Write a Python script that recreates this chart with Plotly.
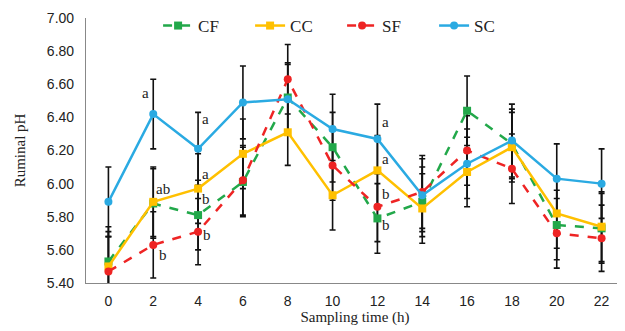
import plotly.graph_objects as go

hours = [0, 2, 4, 6, 8, 10, 12, 14, 16, 18, 20, 22]
tick_labels = ["0", "2", "4", "6", "8", "10", "12", "14", "16", "18", "20", "22"]

cf = [5.53, 5.88, 5.81, 6.01, 6.52, 6.22, 5.79, 5.89, 6.44, 6.24, 5.75, 5.73]
cc = [5.50, 5.89, 5.97, 6.18, 6.31, 5.93, 6.08, 5.85, 6.07, 6.22, 5.82, 5.74]
sf = [5.47, 5.63, 5.71, 6.02, 6.63, 6.11, 5.86, 5.95, 6.20, 6.09, 5.70, 5.67]
sc = [5.89, 6.42, 6.21, 6.49, 6.51, 6.33, 6.27, 5.93, 6.12, 6.26, 6.03, 6.00]

cf_err = [0.21, 0.21, 0.21, 0.21, 0.21, 0.21, 0.21, 0.21, 0.21, 0.21, 0.21, 0.21]
cc_err = [0.21, 0.21, 0.21, 0.21, 0.20, 0.21, 0.21, 0.21, 0.21, 0.21, 0.21, 0.21]
sf_err = [0.21, 0.20, 0.20, 0.21, 0.21, 0.21, 0.21, 0.22, 0.21, 0.21, 0.21, 0.20]
sc_err = [0.21, 0.21, 0.22, 0.22, 0.21, 0.21, 0.21, 0.22, 0.21, 0.22, 0.21, 0.21]

# significance letters: (x, y, text)
letter_x = [1.65, 2.45, 2.45, 4.35, 4.35, 4.35, 4.4, 12.35, 12.35, 12.4, 12.4]
letter_y = [6.55, 5.97, 5.57, 6.39, 6.06, 5.91, 5.69, 6.37, 6.15, 5.94, 5.75]
letter_t = ["a", "ab", "b", "a", "a", "b", "b", "a", "a", "b", "b"]

series = [
    ("CF", cf, cf_err, "#22A84A", "dash", "square"),
    ("CC", cc, cc_err, "#FFC000", "solid", "square"),
    ("SF", sf, sf_err, "#EE2424", "dash", "circle"),
    ("SC", sc, sc_err, "#2AAAE2", "solid", "circle"),
]

fig = go.Figure()

for name, vals, err, color, dash, sym in series:
    fig.add_trace(go.Scatter(
        x=hours, y=vals, mode="markers", showlegend=False, hoverinfo="skip",
        marker=dict(size=1, opacity=0),
        error_y=dict(type="data", array=err, visible=True, color="#111111",
                     thickness=1.6, width=3),
    ))

for name, vals, err, color, dash, sym in series:
    fig.add_trace(go.Scatter(
        x=hours, y=vals, mode="lines+markers", name=name,
        line=dict(color=color, width=2.5, dash=dash),
        marker=dict(color=color, size=8, symbol=sym),
    ))

for lx, ly, lt in zip(letter_x, letter_y, letter_t):
    fig.add_annotation(x=lx, y=ly, text=lt, showarrow=False,
                       xanchor="center", yanchor="middle",
                       font=dict(family="Liberation Serif", size=15, color="#222222"))

fig.update_layout(
    width=617, height=323,
    margin=dict(l=78, r=1, t=9, b=48),
    paper_bgcolor="white", plot_bgcolor="white",
    font=dict(family="Liberation Sans", color="#222222"),
    legend=dict(orientation="h", x=0.134, y=1.035, xanchor="left", yanchor="top",
                font=dict(family="Liberation Serif", size=17, color="#222222"),
                bgcolor="rgba(0,0,0,0)", entrywidth=47, entrywidthmode="pixels",
                itemclick=False),
    xaxis=dict(range=[-1, 23], tickvals=hours, ticktext=tick_labels,
               showgrid=False, zeroline=False, showline=True, linecolor="#888888",
               linewidth=1.2, ticks="outside", ticklen=5, tickcolor="rgba(0,0,0,0)",
               tickfont=dict(family="Liberation Sans", size=14, color="#222222"),
               title=dict(text="Sampling time (h)", standoff=3,
                          font=dict(family="Liberation Serif", size=15, color="#222222"))),
    yaxis=dict(range=[5.40, 7.00], tickvals=[5.4, 5.6, 5.8, 6.0, 6.2, 6.4, 6.6, 6.8, 7.0],
               tickformat=".2f", showgrid=False, zeroline=False, showline=True,
               linecolor="#888888", linewidth=1.2, ticks="outside", ticklen=8,
               tickcolor="rgba(0,0,0,0)",
               tickfont=dict(family="Liberation Sans", size=14, color="#222222"),
               title=dict(text="Ruminal pH", standoff=17,
                          font=dict(family="Liberation Serif", size=15, color="#222222"))),
)

fig.write_html("out.html")
